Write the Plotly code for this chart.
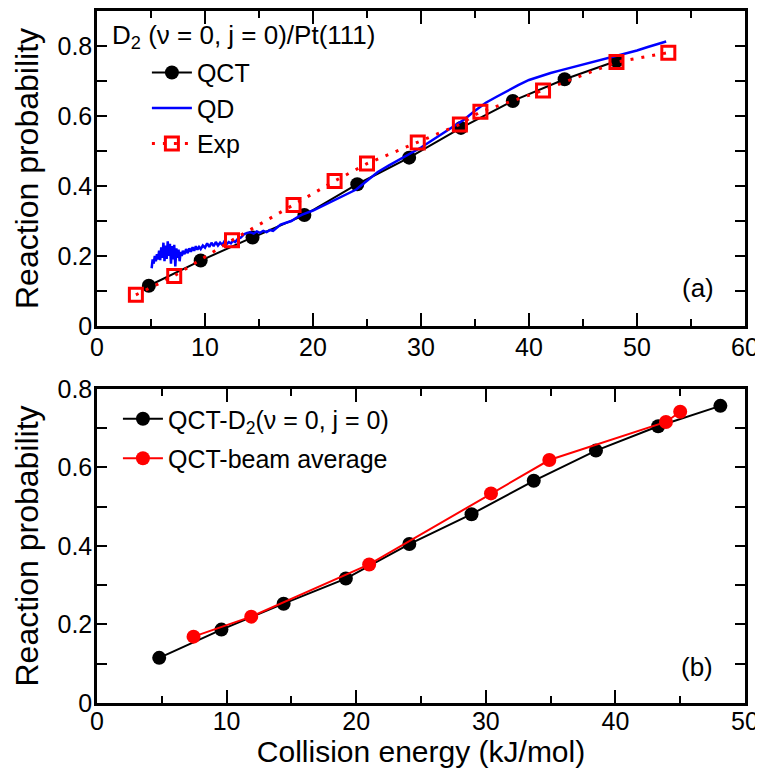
import plotly.graph_objects as go

# ---------------- data ----------------
qct_e = [4.8, 9.6, 14.4, 19.2, 24.1, 28.9, 33.7, 38.5, 43.3, 48.1]
qct_p = [0.115, 0.187, 0.253, 0.317, 0.405, 0.481, 0.566, 0.643, 0.705, 0.757]

exp_e = [3.6, 7.15, 12.5, 18.2, 22.0, 25.0, 29.7, 33.6, 35.5, 41.3, 48.1, 52.9]
exp_p = [0.089, 0.143, 0.245, 0.346, 0.414, 0.464, 0.524, 0.576, 0.612, 0.673, 0.754, 0.781]

beam_e = [7.45, 11.9, 21.0, 30.4, 34.9, 43.9, 45.0]
beam_p = [0.169, 0.220, 0.353, 0.534, 0.619, 0.716, 0.742]

qd_e = [5.06, 5.15, 5.25, 5.35, 5.45, 5.55, 5.65, 5.75, 5.85, 5.95, 6.05, 6.15, 6.25,
        6.35, 6.45, 6.55, 6.65, 6.75, 6.85, 6.95, 7.05, 7.15, 7.25, 7.35, 7.45, 7.55,
        7.65, 7.75, 7.85, 7.95, 8.1, 8.25, 8.4, 8.55, 8.7, 8.85, 9.0, 9.15, 9.3, 9.45,
        9.6, 9.8, 10.0, 10.2, 10.4, 10.6, 10.8, 11.0, 11.2, 11.4, 11.6, 11.8, 12.0,
        12.2, 12.4, 12.6, 12.8, 13.0, 13.3, 13.6, 13.9, 14.2, 14.5, 14.8, 15.1, 15.4,
        15.7, 16.0, 16.3, 16.6, 17.0, 17.5, 18.0, 18.5, 19.0, 20.0, 21.0, 22.0, 23.0,
        24.0, 25.0, 26.0, 27.0, 28.0, 29.0, 30.0, 31.0, 32.0, 33.0, 34.0, 35.0, 36.0,
        37.0, 38.0, 39.0, 40.0, 41.0, 42.0, 43.0, 44.0, 45.0, 46.0, 47.0, 48.0, 49.0,
        50.0, 51.0, 52.0, 52.7]
qd_p = [0.165, 0.190, 0.178, 0.200, 0.185, 0.205, 0.190, 0.215, 0.188, 0.225, 0.195,
        0.238, 0.185, 0.230, 0.192, 0.242, 0.200, 0.235, 0.178, 0.228, 0.190, 0.232,
        0.170, 0.222, 0.195, 0.218, 0.185, 0.212, 0.200, 0.215, 0.205, 0.220, 0.208,
        0.222, 0.212, 0.225, 0.215, 0.228, 0.218, 0.226, 0.220, 0.230, 0.224, 0.236,
        0.226, 0.238, 0.228, 0.240, 0.230, 0.238, 0.232, 0.242, 0.234, 0.240, 0.236,
        0.244, 0.240, 0.248, 0.252, 0.262, 0.266, 0.268, 0.264, 0.270, 0.266, 0.272,
        0.268, 0.274, 0.272, 0.280, 0.290, 0.295, 0.300, 0.310, 0.318, 0.330, 0.345,
        0.360, 0.375, 0.390, 0.415, 0.440, 0.458, 0.475, 0.493, 0.510, 0.530, 0.550,
        0.570, 0.590, 0.615, 0.638, 0.655, 0.672, 0.688, 0.703, 0.714, 0.723, 0.731,
        0.739, 0.747, 0.754, 0.762, 0.770, 0.778, 0.787, 0.797, 0.806, 0.813]

x_ticks_top = [0, 10, 20, 30, 40, 50, 60]
x_ticks_bot = [0, 10, 20, 30, 40, 50]

FONT = "Liberation Sans Narrow, Liberation Sans, Arial, sans-serif"

fig = go.Figure()

# ---- panel (a) ----
fig.add_trace(go.Scatter(
    x=qct_e, y=qct_p, mode="lines+markers", name="QCT",
    line=dict(color="black", width=2), marker=dict(size=14, color="black"),
    xaxis="x", yaxis="y", legend="legend"))
fig.add_trace(go.Scatter(
    x=qd_e, y=qd_p, mode="lines", name="QD",
    line=dict(color="#0000ff", width=2.5),
    xaxis="x", yaxis="y", legend="legend"))
fig.add_trace(go.Scatter(
    x=exp_e, y=exp_p, mode="lines+markers", name="Exp",
    line=dict(color="#ff0000", width=3, dash="3px,8px"),
    marker=dict(symbol="square-open", size=13, color="#ff0000", line=dict(width=3)),
    xaxis="x", yaxis="y", legend="legend"))

# ---- panel (b) ----
fig.add_trace(go.Scatter(
    x=qct_e, y=qct_p, mode="lines+markers", name="QCT-D<sub>2</sub>(ν = 0, j = 0)",
    line=dict(color="black", width=2), marker=dict(size=14, color="black"),
    xaxis="x2", yaxis="y2", legend="legend2", legendgroup="a"))
fig.add_trace(go.Scatter(
    x=beam_e, y=beam_p, mode="lines+markers", name="QCT-beam average",
    line=dict(color="#ff0000", width=2), marker=dict(size=14, color="#ff0000"),
    xaxis="x2", yaxis="y2", legend="legend2", legendgroup="b"))

axis_common = dict(
    showline=True, linewidth=2.5, linecolor="black", mirror="ticks",
    ticks="inside", tickwidth=2, tickcolor="black", showgrid=False, zeroline=False,
    automargin=False,
    tickfont=dict(size=25, color="black", family=FONT),
)
minor_x = dict(dtick=5, ticklen=7, ticks="inside", tickwidth=2, tickcolor="black")
minor_y = dict(dtick=0.1, ticklen=10, ticks="inside", tickwidth=2, tickcolor="black")

# page body has an 8px margin, so the figure is sized/offset to compensate
fig.update_layout(
    width=755, height=765,
    margin=dict(l=89, r=18, t=3, b=70, autoexpand=False),
    paper_bgcolor="white", plot_bgcolor="white",
    font=dict(family=FONT, color="black"),
    showlegend=True,
    xaxis=dict(domain=[0, 1], anchor="y", range=[0, 60], tickvals=x_ticks_top, ticklen=13,
               ticklabelstandoff=-3, minor=minor_x, **axis_common),
    yaxis=dict(domain=[0.5448, 1.0], anchor="x", range=[0, 0.9], dtick=0.2, ticklen=10,
               ticklabelstandoff=-3, minor=minor_y,
               title=dict(text="Reaction probability", font=dict(size=32, family=FONT), standoff=10),
               **axis_common),
    xaxis2=dict(domain=[0, 1], anchor="y2", range=[0, 50], tickvals=x_ticks_bot, ticklen=13,
                ticklabelstandoff=-6, minor=minor_x,
                title=dict(text="Collision energy (kJ/mol)", font=dict(size=30, family=FONT), standoff=0),
                **axis_common),
    yaxis2=dict(domain=[0, 0.4538], anchor="x2", range=[0, 0.8], dtick=0.2, ticklen=10,
                ticklabelstandoff=-3, minor=minor_y,
                title=dict(text="Reaction probability", font=dict(size=32, family=FONT), standoff=10),
                **axis_common),
    legend=dict(x=0.077, y=0.944, xanchor="left", yanchor="top", bgcolor="rgba(0,0,0,0)",
                font=dict(size=25, family=FONT), itemwidth=40, tracegroupgap=0),
    legend2=dict(x=0.0323, y=0.4436, xanchor="left", yanchor="top", bgcolor="rgba(0,0,0,0)",
                 font=dict(size=25, family=FONT), itemwidth=40, tracegroupgap=4),
    annotations=[
        dict(text="D<sub>2</sub> (ν = 0, j = 0)/Pt(111)", xref="paper", yref="paper",
             x=0.020, y=0.990, xanchor="left", yanchor="top", showarrow=False,
             font=dict(size=26, family=FONT, color="black")),
        dict(text="(a)", xref="paper", yref="paper", x=0.9275, y=0.5997,
             xanchor="center", yanchor="middle", showarrow=False,
             font=dict(size=26, family=FONT, color="black")),
        dict(text="(b)", xref="paper", yref="paper", x=0.926, y=0.052,
             xanchor="center", yanchor="middle", showarrow=False,
             font=dict(size=26, family=FONT, color="black")),
    ],
)

fig.write_html("out.html")
